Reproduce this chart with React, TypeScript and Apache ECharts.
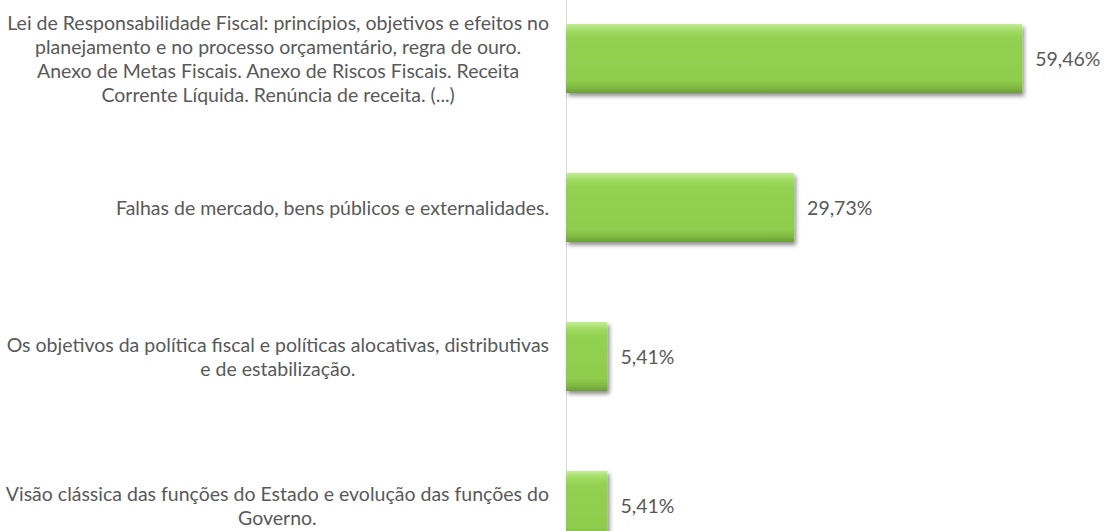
import React, { useEffect, useRef } from "react";
import * as echarts from "echarts";

const categories: string[][] = [
  [
    "Lei de Responsabilidade Fiscal: princípios, objetivos e efeitos no",
    "planejamento e no processo orçamentário, regra de ouro.",
    "Anexo de Metas Fiscais. Anexo de Riscos Fiscais. Receita",
    "Corrente Líquida. Renúncia de receita. (...)",
  ],
  ["Falhas de mercado, bens públicos e externalidades."],
  [
    "Os objetivos da política fiscal e políticas alocativas, distributivas",
    "e de estabilização.",
  ],
  [
    "Visão clássica das funções do Estado e evolução das funções do",
    "Governo.",
  ],
];
const values: number[] = [59.46, 29.73, 5.41, 5.41];

const FONT = "Lato, 'Liberation Sans', sans-serif";
const TEXT_COLOR = "#595959";
const FS = 19.5;

export default function App() {
  const ref = useRef<HTMLDivElement>(null);
  useEffect(() => {
    if (!ref.current) return;
    const chart = echarts.init(ref.current, undefined, { renderer: "svg" });
    const labels = categories.map((lines) => lines.join("\n"));
    chart.setOption({
      animation: false,
      backgroundColor: "#ffffff",
      grid: { left: 566, right: 2, top: 0, bottom: 0, containLabel: false },
      xAxis: {
        type: "value",
        min: 0,
        max: 70,
        show: false,
        splitLine: { show: false },
      },
      yAxis: {
        type: "category",
        inverse: true,
        data: labels,
        axisLine: { show: true, lineStyle: { color: "#d9d9d9", width: 1 } },
        axisTick: { show: false },
        axisLabel: {
          margin: 17,
          fontFamily: FONT,
          fontSize: FS,
          color: TEXT_COLOR,
          formatter: (v: string) =>
            v
              .split("\n")
              .map((l) => `{c|${l}}`)
              .join("\n"),
          rich: {
            c: {
              align: "center",
              fontFamily: FONT,
              fontSize: FS,
              color: TEXT_COLOR,
              lineHeight: 24,
            },
          },
        },
      },
      series: [
        {
          type: "bar",
          data: values,
          barWidth: 69,
          itemStyle: {
            color: new echarts.graphic.LinearGradient(0, 0, 0, 1, [
              { offset: 0, color: "#c2ec97" },
              { offset: 0.1, color: "#a0dc63" },
              { offset: 0.2, color: "#93d152" },
              { offset: 0.82, color: "#8ecd4d" },
              { offset: 0.92, color: "#7fba42" },
              { offset: 1, color: "#6a9f35" },
            ]),
            shadowColor: "rgba(0,0,0,0.45)",
            shadowBlur: 4,
            shadowOffsetX: 2,
            shadowOffsetY: 3,
          },
          label: {
            show: true,
            position: "right",
            distance: 13,
            fontFamily: FONT,
            fontSize: FS,
            color: TEXT_COLOR,
            formatter: (p: any) => p.value.toFixed(2).replace(".", ",") + "%",
          },
        },
      ],
    });
    return () => chart.dispose();
  }, []);
  return (
    <div
      ref={ref}
      style={{ position: "fixed", left: 0, top: -16, width: 1105, height: 596 }}
    />
  );
}
